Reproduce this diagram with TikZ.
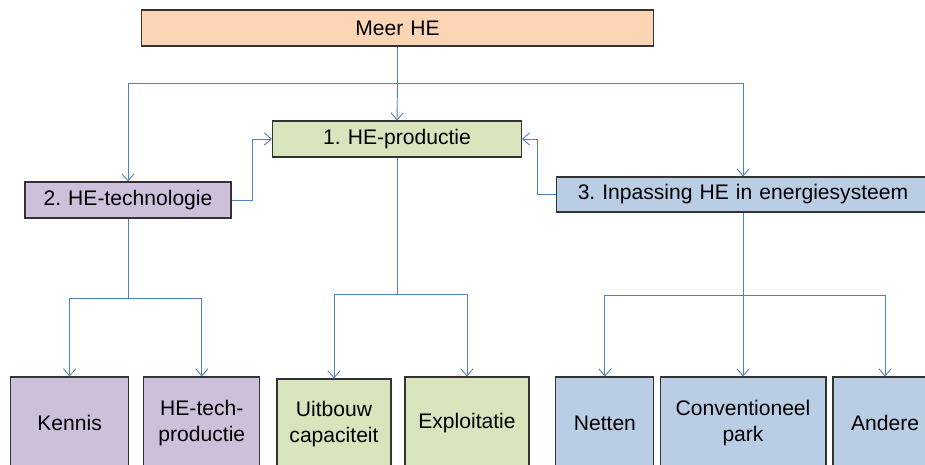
\documentclass[tikz,border=0pt]{standalone}
\usepackage{fontspec}
\setmainfont{Liberation Sans}
\usetikzlibrary{arrows.meta}
\frenchspacing
\definecolor{orangefill}{HTML}{FCD5B4}
\definecolor{greenfill}{HTML}{D7E4BC}
\definecolor{purplefill}{HTML}{CCC0DA}
\definecolor{bluefill}{HTML}{B9CDE5}
\definecolor{linkblue}{HTML}{4F81BD}
\tikzset{
  box/.style={draw=black!80, line width=0.6pt, inner sep=0pt, align=center,
    font=\fontsize{12}{14.6}\selectfont},
  link/.style={draw=linkblue, line width=0.5pt},
  linkarrow/.style={link, -{Straight Barb[length=4pt,width=7pt]}}
}
\begin{document}
\begin{tikzpicture}[x=0.02cm,y=-0.02cm]
\useasboundingbox (0,0) rectangle (925,465);
\clip (0,0) rectangle (925,465);

\node[box, fill=orangefill, text width=10.24cm, minimum height=0.72cm] (meer) at (397.5,28) {Meer HE};
\node[box, fill=greenfill, text width=4.98cm, minimum height=0.72cm] (prod) at (397,139) {1. HE-productie};
\node[box, fill=purplefill, text width=4.12cm, minimum height=0.72cm] (tech) at (128,200) {2. HE-technologie};
\node[box, fill=bluefill, text width=7.48cm, minimum height=0.70cm] (inpas) at (743,194.5) {3. Inpassing HE in energiesysteem};

\node[box, fill=purplefill, text width=2.36cm, minimum height=1.84cm] (kennis) at (69.6,423) {Kennis};
\node[box, fill=purplefill, text width=2.32cm, minimum height=1.84cm] (htp) at (201.8,423) {HE-tech-\\productie};
\node[box, fill=greenfill, text width=2.28cm, minimum height=1.80cm] (uitbouw) at (334,424) {Uitbouw\\capaciteit};
\node[box, fill=greenfill, text width=2.48cm, minimum height=1.84cm] (exploit) at (467,423) {Exploitatie};
\node[box, fill=bluefill, text width=1.96cm, minimum height=1.84cm] (netten) at (604.9,423) {Netten};
\node[box, fill=bluefill, text width=3.32cm, minimum height=1.84cm] (conv) at (743,423) {Conventioneel\\park};
\node[box, fill=bluefill, text width=2.08cm, minimum height=1.84cm] (andere) at (885,423) {Andere};

\coordinate (split) at (397.5,83);
\coordinate (techsplit) at (128,298);
\coordinate (prodsplit) at (397,294);
\coordinate (inpassplit) at (743,295);

\draw[link] (meer.south) -- (split);
\draw[linkarrow] (split) -| (tech.north);
\draw[linkarrow] (split) -- (prod.north);
\draw[linkarrow] (split) -| (inpas.north);

\draw[linkarrow] (tech.east) -- ++(21,0) |- (prod.west);
\draw[linkarrow] (inpas.west) -- ++(-18,0) |- (prod.east);

\draw[link] (tech.south) -- (techsplit);
\draw[linkarrow] (techsplit) -| (kennis.north);
\draw[linkarrow] (techsplit) -| (htp.north);

\draw[link] (prod.south) -- (prodsplit);
\draw[linkarrow] (prodsplit) -| (uitbouw.north);
\draw[linkarrow] (prodsplit) -| (exploit.north);

\draw[linkarrow] (inpas.south) -- (conv.north);
\draw[linkarrow] (inpassplit) -| (netten.north);
\draw[linkarrow] (inpassplit) -| (andere.north);
\end{tikzpicture}
\end{document}
